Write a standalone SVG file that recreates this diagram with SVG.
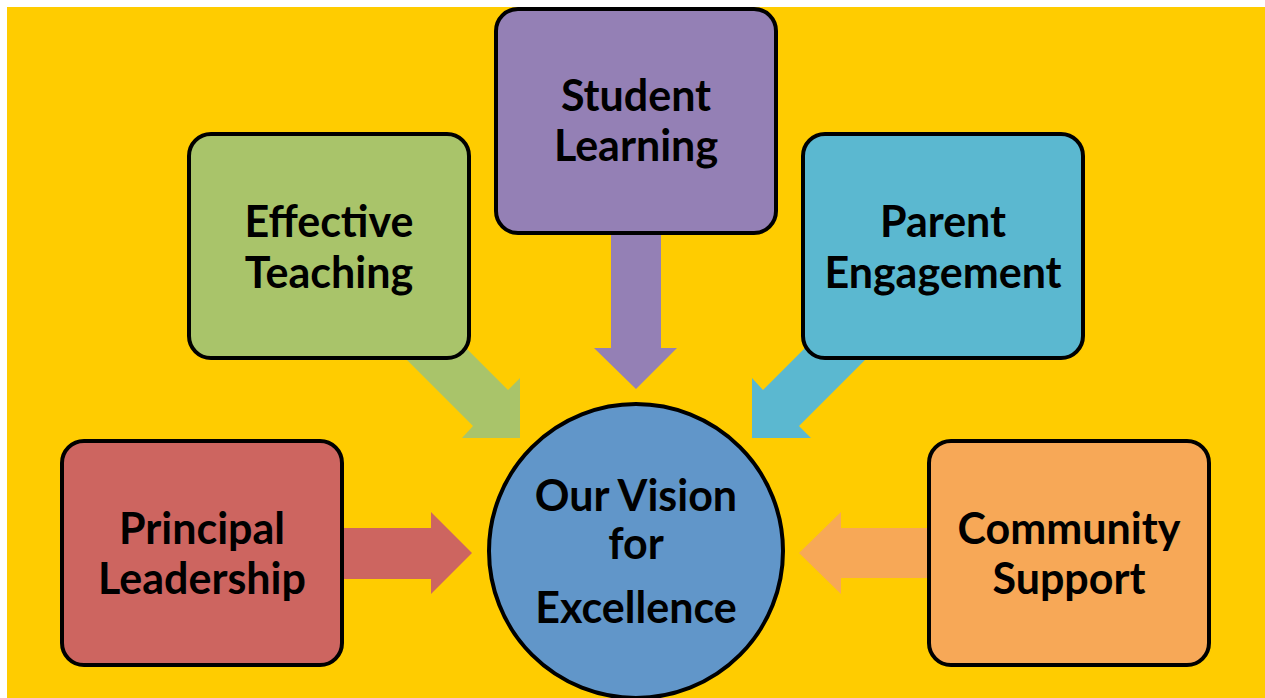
<svg xmlns="http://www.w3.org/2000/svg" width="1265" height="698" viewBox="0 0 1265 698">
<style>
.box{stroke:#000;stroke-width:4}
.t{font-family:Lato,"Open Sans","Liberation Sans",sans-serif;font-weight:bold;font-size:43px;fill:#000;text-anchor:middle}
</style>
<rect x="0" y="0" width="1265" height="698" fill="#fff"/>
<rect x="7" y="7" width="1258" height="691" fill="#FFCC00"/>
<g id="connectors">
<polygon fill="#9480B5" points="611,230 661,230 661,348 677,348 636,389 594,348 611,348"/>
<polygon fill="#CD6560" points="340,528 431,528 431,512 472,553 431,594 431,579 340,579"/>
<polygon fill="#F7A857" points="932,528 841,528 841,512 799,553 841,594 841,578 932,578"/>
<polygon fill="#A9C46A" points="458,340 508,390 520,378 520,438 462,438 473,426 387,340"/>
<polygon fill="#5BB8D0" points="799,426 811,438 752,438 752,378 763,390 813,340 885,340"/>
</g>
<g id="node-student"><rect class="box" x="496" y="9" width="280" height="224" rx="22" fill="#9480B5"/><text class="t" x="636" y="111">Student</text><text class="t" x="636" y="161">Learning</text></g>
<g id="node-effective"><rect class="box" x="189" y="134" width="280" height="224" rx="22" fill="#A9C46A"/><text class="t" x="329" y="237">Effective</text><text class="t" x="329" y="288">Teaching</text></g>
<g id="node-parent"><rect class="box" x="803" y="134" width="280" height="224" rx="22" fill="#5BB8D0"/><text class="t" x="943" y="237">Parent</text><text class="t" x="943" y="288">Engagement</text></g>
<g id="node-principal"><rect class="box" x="62" y="441" width="280" height="224" rx="22" fill="#CD6560"/><text class="t" x="202" y="544">Principal</text><text class="t" x="202" y="594">Leadership</text></g>
<g id="node-community"><rect class="box" x="929" y="441" width="280" height="224" rx="22" fill="#F7A857"/><text class="t" x="1069" y="544">Community</text><text class="t" x="1069" y="594">Support</text></g>
<g id="node-vision"><circle class="box" cx="636" cy="551" r="147" fill="#6196C9"/><text class="t" x="636" y="511">Our Vision</text><text class="t" x="636" y="559">for</text><text class="t" x="636" y="623">Excellence</text></g>
</svg>
